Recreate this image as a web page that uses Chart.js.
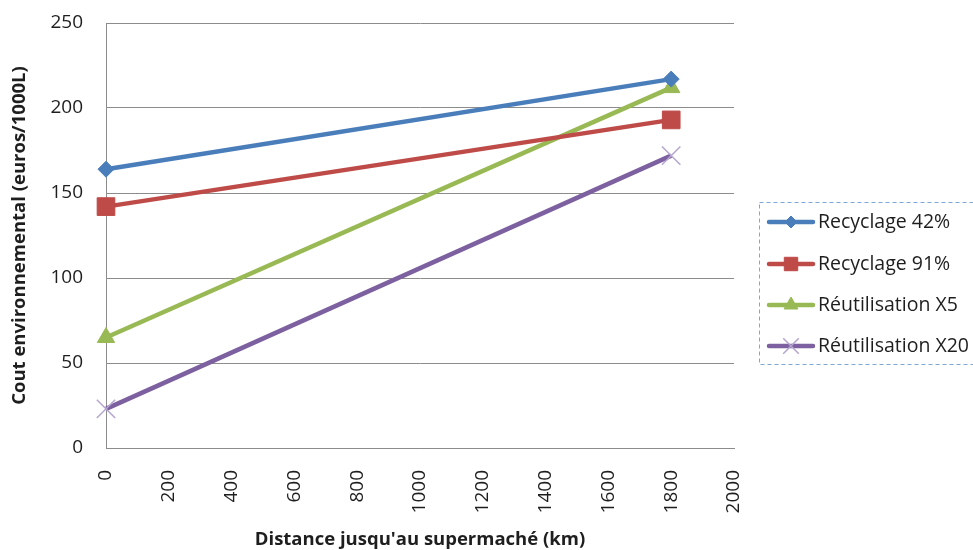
<!DOCTYPE html>
<html>
<head>
<meta charset="utf-8">
<script src="https://cdn.jsdelivr.net/npm/chart.js@4/dist/chart.umd.min.js"></script>
<style>
  html, body { margin: 0; padding: 0; background: #ffffff; }
  #wrap { width: 973px; height: 550px; position: relative; }
</style>
</head>
<body>
<div id="wrap"><canvas id="c" width="973" height="550"></canvas></div>
<script>
// Distance to the supermarket (km) and environmental cost (euros / 1000 L)
const distances = [0, 1800];
const recyclage42 = [164, 217];
const recyclage91 = [142, 193];
const reutilisationX5 = [65, 212];
const reutilisationX20 = [23, 172];

const seriesNames = ['Recyclage 42%', 'Recyclage 91%', 'Réutilisation X5', 'Réutilisation X20'];
const xTicks = { min: 0, max: 2000, step: 200 };
const yTicks = { min: 0, max: 250, step: 50 };

const FONT = '"Open Sans", "DejaVu Sans", sans-serif';
const gridGray = '#8c8c8c';
const textColor = '#1e1e1e';

function pts(values) {
  return distances.map((d, i) => ({ x: d, y: values[i] }));
}

const datasets = [
  { label: seriesNames[0], data: pts(recyclage42), borderColor: '#4a7ebb', backgroundColor: '#4a7ebb',
    pointStyle: 'rectRot', pointRadius: 8, legendRadius: 6 },
  { label: seriesNames[1], data: pts(recyclage91), borderColor: '#be4b48', backgroundColor: '#be4b48',
    pointStyle: 'rect', pointRadius: 12.5, legendRadius: 9.5 },
  { label: seriesNames[2], data: pts(reutilisationX5), borderColor: '#98b954', backgroundColor: '#98b954',
    pointStyle: 'triangle', pointRadius: 10, legendRadius: 8 },
  { label: seriesNames[3], data: pts(reutilisationX20), borderColor: '#7d60a0', backgroundColor: '#7d60a0',
    pointStyle: 'crossRot', pointRadius: 13, legendRadius: 11, pointBorderColor: '#b4a6cf', pointBorderWidth: 1.5 }
].map(ds => Object.assign({
  borderWidth: 4.5,
  tension: 0,
  clip: false,
  pointBorderColor: ds.borderColor,
  pointBorderWidth: 1,
  pointHoverRadius: ds.pointRadius
}, ds));

// Legend drawn inside a dashed frame to the right of the plot
const dashedLegend = {
  id: 'dashedLegend',
  afterDraw(chart) {
    const ctx = chart.ctx;
    const box = { x: 759.5, y: 202.5, w: 240, h: 162 };
    ctx.save();
    ctx.setLineDash([4, 3]);
    ctx.strokeStyle = '#7ea6d8';
    ctx.lineWidth = 1;
    ctx.strokeRect(box.x, box.y, box.w, box.h);
    ctx.setLineDash([]);
    const rows = [222, 264, 305, 346];
    chart.data.datasets.forEach((ds, i) => {
      const y = rows[i];
      ctx.strokeStyle = ds.borderColor;
      ctx.lineWidth = 4.5;
      ctx.lineCap = 'round';
      ctx.beginPath();
      ctx.moveTo(769, y);
      ctx.lineTo(813, y);
      ctx.stroke();
      ctx.lineCap = 'butt';
      ctx.fillStyle = ds.backgroundColor;
      ctx.strokeStyle = ds.pointBorderColor;
      ctx.lineWidth = ds.pointBorderWidth;
      Chart.helpers.drawPoint(ctx, { pointStyle: ds.pointStyle, radius: ds.legendRadius, borderWidth: ds.pointBorderWidth, rotation: 0 }, 791, y);
      ctx.fillStyle = textColor;
      ctx.font = '19.5px ' + FONT;
      ctx.textAlign = 'left';
      ctx.textBaseline = 'middle';
      ctx.fillText(ds.label, 818, y);
    });
    ctx.restore();
  }
};

new Chart(document.getElementById('c'), {
  type: 'line',
  data: { datasets },
  plugins: [dashedLegend],
  options: {
    responsive: false,
    animation: false,
    events: [],
    layout: { padding: { left: 0, right: 239, top: 23, bottom: 0 } },
    plugins: { legend: { display: false }, tooltip: { enabled: false } },
    scales: {
      x: {
        type: 'linear',
        min: xTicks.min, max: xTicks.max,
        border: { display: true, color: gridGray, width: 1 },
        grid: { display: false, drawTicks: false },
        ticks: {
          stepSize: xTicks.step,
          minRotation: 90, maxRotation: 90,
          padding: 22,
          color: textColor,
          font: { family: FONT, size: 19 },
          callback: v => String(v)
        },
        title: {
          display: true,
          text: "Distance jusqu'au supermaché (km)",
          color: textColor,
          padding: { top: 0, bottom: -1 },
          font: { family: FONT, size: 18.5, weight: 'bold' }
        },
        afterFit(scale) { scale.height = 102; }
      },
      y: {
        min: yTicks.min, max: yTicks.max,
        border: { display: true, color: gridGray, width: 1 },
        grid: { color: gridGray, lineWidth: 1, drawTicks: false },
        ticks: {
          stepSize: yTicks.step,
          padding: 23,
          color: textColor,
          font: { family: FONT, size: 19 },
          callback: v => String(v)
        },
        title: {
          display: true,
          text: 'Cout environnemental (euros/1000L)',
          color: textColor,
          padding: { top: 8.5, bottom: 0 },
          font: { family: FONT, size: 18.5, weight: 'bold' }
        },
        afterFit(scale) {
          scale.width = 106;
          scale.paddingTop = 0;
          scale.paddingBottom = 0;
        }
      }
    }
  }
});
</script>
</body>
</html>
